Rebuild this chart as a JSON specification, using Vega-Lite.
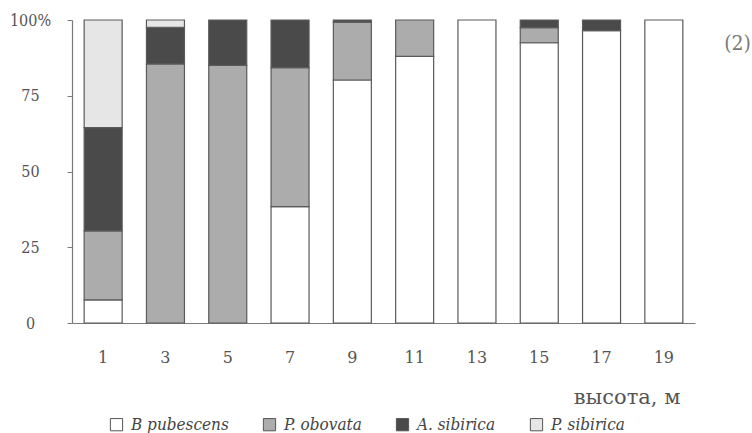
{
  "$schema": "https://vega.github.io/schema/vega-lite/v6.json",
  "width": 623,
  "height": 303,
  "autosize": {"type": "none"},
  "padding": {"left": 72, "top": 20, "right": 57, "bottom": 110},
  "background": "white",
  "title": {
    "text": "(2)",
    "anchor": "end",
    "frame": "group",
    "orient": "top",
    "offset": 0,
    "dx": 56,
    "dy": 42,
    "font": "DejaVu Serif Condensed",
    "fontSize": 21,
    "fontWeight": "normal",
    "color": "#7a7a7a"
  },
  "data": {
    "values": [
      {"h": "1", "species": "B pubescens", "n": 1, "v": 7.6},
      {"h": "1", "species": "P. obovata", "n": 2, "v": 22.8},
      {"h": "1", "species": "A. sibirica", "n": 3, "v": 34.1},
      {"h": "1", "species": "P. sibirica", "n": 4, "v": 35.5},
      {"h": "3", "species": "P. obovata", "n": 2, "v": 85.5},
      {"h": "3", "species": "A. sibirica", "n": 3, "v": 12.1},
      {"h": "3", "species": "P. sibirica", "n": 4, "v": 2.4},
      {"h": "5", "species": "P. obovata", "n": 2, "v": 85},
      {"h": "5", "species": "A. sibirica", "n": 3, "v": 15},
      {"h": "7", "species": "B pubescens", "n": 1, "v": 38.4},
      {"h": "7", "species": "P. obovata", "n": 2, "v": 45.9},
      {"h": "7", "species": "A. sibirica", "n": 3, "v": 15.7},
      {"h": "9", "species": "B pubescens", "n": 1, "v": 80.2},
      {"h": "9", "species": "P. obovata", "n": 2, "v": 19.1},
      {"h": "9", "species": "A. sibirica", "n": 3, "v": 0.7},
      {"h": "11", "species": "B pubescens", "n": 1, "v": 88},
      {"h": "11", "species": "P. obovata", "n": 2, "v": 12},
      {"h": "13", "species": "B pubescens", "n": 1, "v": 100},
      {"h": "15", "species": "B pubescens", "n": 1, "v": 92.5},
      {"h": "15", "species": "P. obovata", "n": 2, "v": 5},
      {"h": "15", "species": "A. sibirica", "n": 3, "v": 2.5},
      {"h": "17", "species": "B pubescens", "n": 1, "v": 96.5},
      {"h": "17", "species": "A. sibirica", "n": 3, "v": 3.5},
      {"h": "19", "species": "B pubescens", "n": 1, "v": 100}
    ]
  },
  "mark": {"type": "bar", "stroke": "#5a5a5a", "strokeWidth": 1.2},
  "encoding": {
    "x": {
      "field": "h",
      "type": "ordinal",
      "sort": ["1", "3", "5", "7", "9", "11", "13", "15", "17", "19"],
      "scale": {"paddingInner": 0.39, "paddingOuter": 0.195},
      "axis": {
        "title": "высота, м",
        "titleFont": "DejaVu Serif",
        "titleFontSize": 21,
        "titleFontWeight": "normal",
        "titleColor": "#555555",
        "titleAnchor": "end",
        "titleAlign": "right",
        "titleBaseline": "middle",
        "titleX": 608,
        "titleY": 74,
        "labelAngle": 0,
        "labelFont": "DejaVu Serif",
        "labelFontSize": 16,
        "labelColor": "#555555",
        "labelPadding": 26,
        "ticks": false,
        "domainColor": "#7a7a7a",
        "domainWidth": 1.2
      }
    },
    "y": {
      "field": "v",
      "type": "quantitative",
      "stack": "zero",
      "scale": {"domain": [0, 100], "nice": false},
      "axis": {
        "title": null,
        "values": [0, 25, 50, 75, 100],
        "labelExpr": "datum.value == 100 ? '100%' : datum.label",
        "labelFont": "DejaVu Serif Condensed",
        "labelFontSize": 16,
        "labelColor": "#555555",
        "labelAlign": "center",
        "labelPadding": 37,
        "tickSize": 5,
        "tickColor": "#7a7a7a",
        "domainColor": "#7a7a7a",
        "domainWidth": 1.2,
        "grid": false
      }
    },
    "color": {
      "field": "species",
      "type": "nominal",
      "scale": {
        "domain": ["B pubescens", "P. obovata", "A. sibirica", "P. sibirica"],
        "range": ["#ffffff", "#acacac", "#4a4a4a", "#e6e6e6"]
      },
      "legend": {
        "title": null,
        "orient": "none",
        "direction": "horizontal",
        "legendX": 36,
        "legendY": 396,
        "symbolType": "square",
        "symbolSize": 150,
        "symbolStrokeColor": "#555555",
        "symbolStrokeWidth": 1,
        "symbolOpacity": 1,
        "labelFont": "DejaVu Serif Condensed",
        "labelFontStyle": "italic",
        "labelFontSize": 17,
        "labelColor": "#444444",
        "labelOffset": 6,
        "columnPadding": 32
      }
    },
    "order": {"field": "n", "type": "quantitative", "sort": "ascending"}
  },
  "config": {
    "view": {"stroke": null}
  }
}
